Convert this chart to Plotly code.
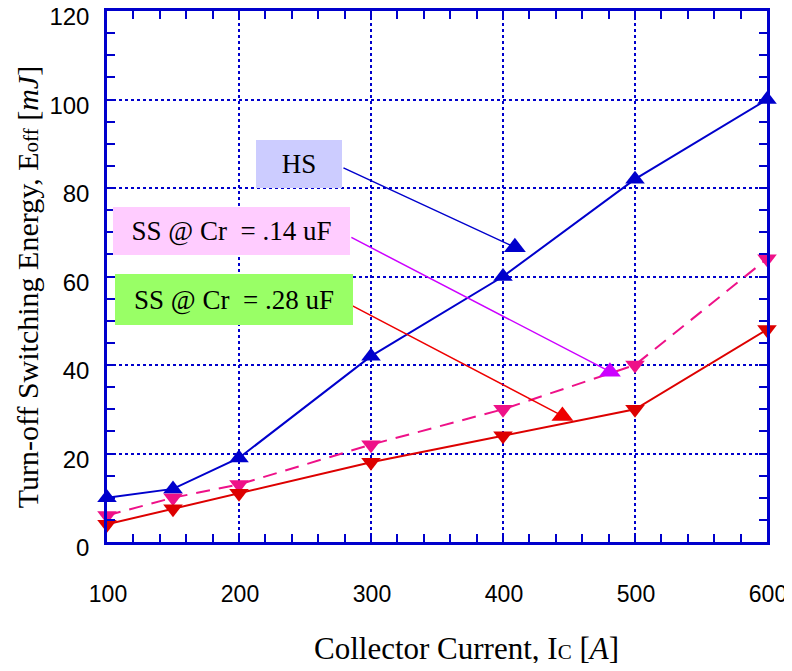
import plotly.graph_objects as go

current = [100, 150, 200, 300, 400, 500, 600]
hs = [10, 12, 19, 42, 60, 82, 100]
ss_014 = [6, 10, 13, 22, 30, 40, 64]
ss_028 = [4, 7.5, 11, 18, 24, 30, 48]

x_ticks = [100, 200, 300, 400, 500, 600]
y_ticks = [0, 20, 40, 60, 80, 100, 120]

labels = ["HS", "SS @ Cr\u00a0 = .14 uF", "SS @ Cr\u00a0 = .28 uF"]
label_pos = [(245.5, 85.4), (194.3, 70.3), (196.2, 54.8)]
label_size = [(86, 48), (237, 48), (238, 51)]
label_bg = ["#ccccff", "#ffccff", "#99ff66"]
arrow_start = [(278, 84.7), (284, 69), (282, 54)]
arrow_tip = [(409, 66.6), (481, 38.5), (445, 28.5)]
arrow_color = ["#0000cc", "#cc00ff", "#ee0000"]

BLUE = "#0000cc"
RED = "#dd0000"
PINK = "#ee1188"

fig = go.Figure()
fig.add_trace(go.Scatter(x=current, y=ss_014, mode="lines+markers",
                         line=dict(color=PINK, width=2, dash="14px,9px"),
                         marker=dict(symbol="triangle-down", size=17, color=PINK),
                         showlegend=False, cliponaxis=False))
fig.add_trace(go.Scatter(x=current, y=ss_028, mode="lines+markers",
                         line=dict(color=RED, width=2),
                         marker=dict(symbol="triangle-down", size=17, color=RED),
                         showlegend=False, cliponaxis=False))
fig.add_trace(go.Scatter(x=current, y=hs, mode="lines+markers",
                         line=dict(color=BLUE, width=2),
                         marker=dict(symbol="triangle-up", size=17, color=BLUE),
                         showlegend=False, cliponaxis=False))

# arrow tip markers
fig.add_trace(go.Scatter(x=[t[0] for t in arrow_tip], y=[t[1] for t in arrow_tip],
                         mode="markers",
                         marker=dict(symbol="triangle-up", size=19, color=arrow_color),
                         showlegend=False, cliponaxis=False))

for (sx, sy), (tx, ty), c in zip(arrow_start, arrow_tip, arrow_color):
    fig.add_annotation(x=tx, y=ty, ax=sx, ay=sy, xref="x", yref="y", axref="x", ayref="y",
                       text="", showarrow=True, arrowhead=0, arrowwidth=1.5, arrowcolor=c,
                       standoff=0, startstandoff=0)

for t, (px, py), (w, h), bg in zip(labels, label_pos, label_size, label_bg):
    fig.add_annotation(x=px, y=py, xref="x", yref="y", text=t, showarrow=False,
                       bgcolor=bg, width=w, height=h, borderpad=0, borderwidth=0,
                       font=dict(family="Liberation Serif", size=27, color="black"),
                       align="center", valign="middle")

# axis titles
fig.add_annotation(x=0.544, y=-0.2, xref="paper", yref="paper",
                   text="Collector Current, I<span style='font-size:21px'>C</span> [<i>A</i>]",
                   showarrow=False, xanchor="center", yanchor="middle",
                   font=dict(family="Liberation Serif", size=31, color="black"))
fig.add_annotation(x=-0.121, y=0.48, xref="paper", yref="paper", textangle=-90,
                   text="Turn-off Switching Energy, E<span style='font-size:21px'>off</span> [<i>mJ</i>]",
                   showarrow=False, xanchor="center", yanchor="middle",
                   font=dict(family="Liberation Serif", size=30, color="black"))

axis_common = dict(showline=True, linecolor=BLUE, linewidth=2.5, mirror="allticks",
                   ticks="inside", ticklen=8, tickwidth=2, tickcolor=BLUE,
                   showgrid=True, gridcolor=BLUE, griddash="dot", gridwidth=2,
                   zeroline=False, automargin=False, ticklabeloverflow="allow")

fig.update_xaxes(range=[100, 600], tickvals=x_ticks, ticklabelstandoff=30,
                 ticklabelshift=1,
                 tickfont=dict(family="Liberation Sans", size=23, color="black"),
                 minor=dict(dtick=20, tick0=100, ticks="inside", ticklen=8, tickwidth=2,
                            tickcolor=BLUE, showgrid=False),
                 **axis_common)
fig.update_yaxes(range=[0, 120], tickvals=y_ticks, ticklabelstandoff=10,
                 ticklabelshift=6,
                 tickfont=dict(family="Liberation Sans", size=24, color="black"),
                 minor=dict(dtick=5, tick0=0, ticks="inside", ticklen=8, tickwidth=2,
                            tickcolor=BLUE, showgrid=False),
                 **axis_common)

# page body adds an 8px offset; size the figure so the plot lands where the reference has it
fig.update_layout(width=784, height=655, margin=dict(l=99, r=25, t=3, b=121),
                  plot_bgcolor="white", paper_bgcolor="white")

fig.write_html("out.html")
